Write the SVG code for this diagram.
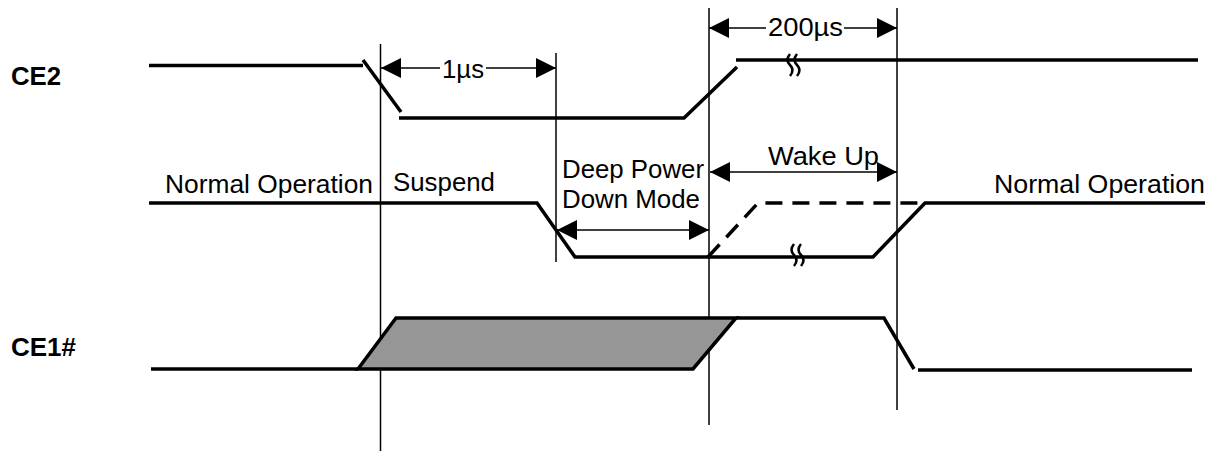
<svg xmlns="http://www.w3.org/2000/svg" width="1210" height="451" viewBox="0 0 1210 451">
<style>
.sig{fill:none;stroke:#000;stroke-width:3.5;stroke-linejoin:miter}
.dash{fill:none;stroke:#000;stroke-width:3.5;stroke-dasharray:17 10}
.guide{fill:none;stroke:#000;stroke-width:1.5}
.dim{fill:none;stroke:#000;stroke-width:1.5}
.brk{fill:none;stroke:#000;stroke-width:2.5}
.t{font-family:"Liberation Sans",Arial,sans-serif;font-size:25px;fill:#000}
.lbl{font-family:"Liberation Sans",Arial,sans-serif;font-size:25px;font-weight:bold;fill:#000}
</style>
<defs>
<marker id="ah" viewBox="0 0 20 20" refX="20" refY="10" markerWidth="20" markerHeight="20" markerUnits="userSpaceOnUse" orient="auto-start-reverse">
<path d="M0,0 L20,10 L0,20 Z" fill="#000"/>
</marker>
</defs>
<rect width="1210" height="451" fill="#fff"/>

<g id="guides">
<line class="guide" x1="380.5" y1="44" x2="380.5" y2="451"/>
<line class="guide" x1="556" y1="53" x2="556" y2="262"/>
<line class="guide" x1="709" y1="8" x2="709" y2="425"/>
<line class="guide" x1="897" y1="8" x2="897" y2="410"/>
</g>

<g id="CE2">
<text class="lbl" x="11" y="85" textLength="50" lengthAdjust="spacingAndGlyphs">CE2</text>
<path class="sig" d="M149 65.5 H363"/>
<path class="sig" d="M363 60 L401 112"/>
<path class="sig" d="M399 118 H684 L737 67"/>
<path class="sig" d="M736 60 H1198"/>
<path class="brk" d="M790 54 q-5 6 0 11 q5 5 0 11 M797 54 q-5 6 0 11 q5 5 0 11"/>
</g>

<g id="state">
<text class="t" x="165" y="193" textLength="208" lengthAdjust="spacingAndGlyphs">Normal Operation</text>
<text class="t" x="393" y="191" textLength="102" lengthAdjust="spacingAndGlyphs">Suspend</text>
<text class="t" x="562" y="178" textLength="142" lengthAdjust="spacingAndGlyphs">Deep Power</text>
<text class="t" x="562" y="208" textLength="138" lengthAdjust="spacingAndGlyphs">Down Mode</text>
<text class="t" x="768" y="165" textLength="111" lengthAdjust="spacingAndGlyphs">Wake Up</text>
<text class="t" x="994" y="193" textLength="211" lengthAdjust="spacingAndGlyphs">Normal Operation</text>
<path class="sig" d="M149 203 H537 L575 257 H873 L925 203 H1205"/>
<path class="dash" d="M708 257 L758 203 H925"/>
<path class="brk" d="M794 244 q-5 6 0 11 q5 5 0 11 M801 244 q-5 6 0 11 q5 5 0 11"/>
</g>

<g id="CE1">
<text class="lbl" x="11" y="356" textLength="65" lengthAdjust="spacingAndGlyphs">CE1#</text>
<polygon points="358,369 396,318 736,318 693,369" fill="#969696" stroke="#000" stroke-width="3.5"/>
<path class="sig" d="M151 369 H358"/>
<path class="sig" d="M736 318 H884 L914 369"/>
<path class="sig" d="M918 370 H1192"/>
</g>

<g id="connectors">
<line class="dim" x1="440" y1="68" x2="381" y2="68" marker-end="url(#ah)"/>
<line class="dim" x1="486" y1="68" x2="556" y2="68" marker-end="url(#ah)"/>
<text class="t" x="442" y="78" textLength="42" lengthAdjust="spacingAndGlyphs">1µs</text>
<line class="dim" x1="766" y1="28" x2="709" y2="28" marker-end="url(#ah)"/>
<line class="dim" x1="844" y1="28" x2="897" y2="28" marker-end="url(#ah)"/>
<text class="t" x="768" y="36" textLength="75" lengthAdjust="spacingAndGlyphs">200µs</text>
<line class="dim" x1="557" y1="230" x2="709" y2="230" marker-start="url(#ah)" marker-end="url(#ah)"/>
<line class="dim" x1="710" y1="172" x2="897" y2="172" marker-start="url(#ah)" marker-end="url(#ah)"/>
</g>
</svg>
